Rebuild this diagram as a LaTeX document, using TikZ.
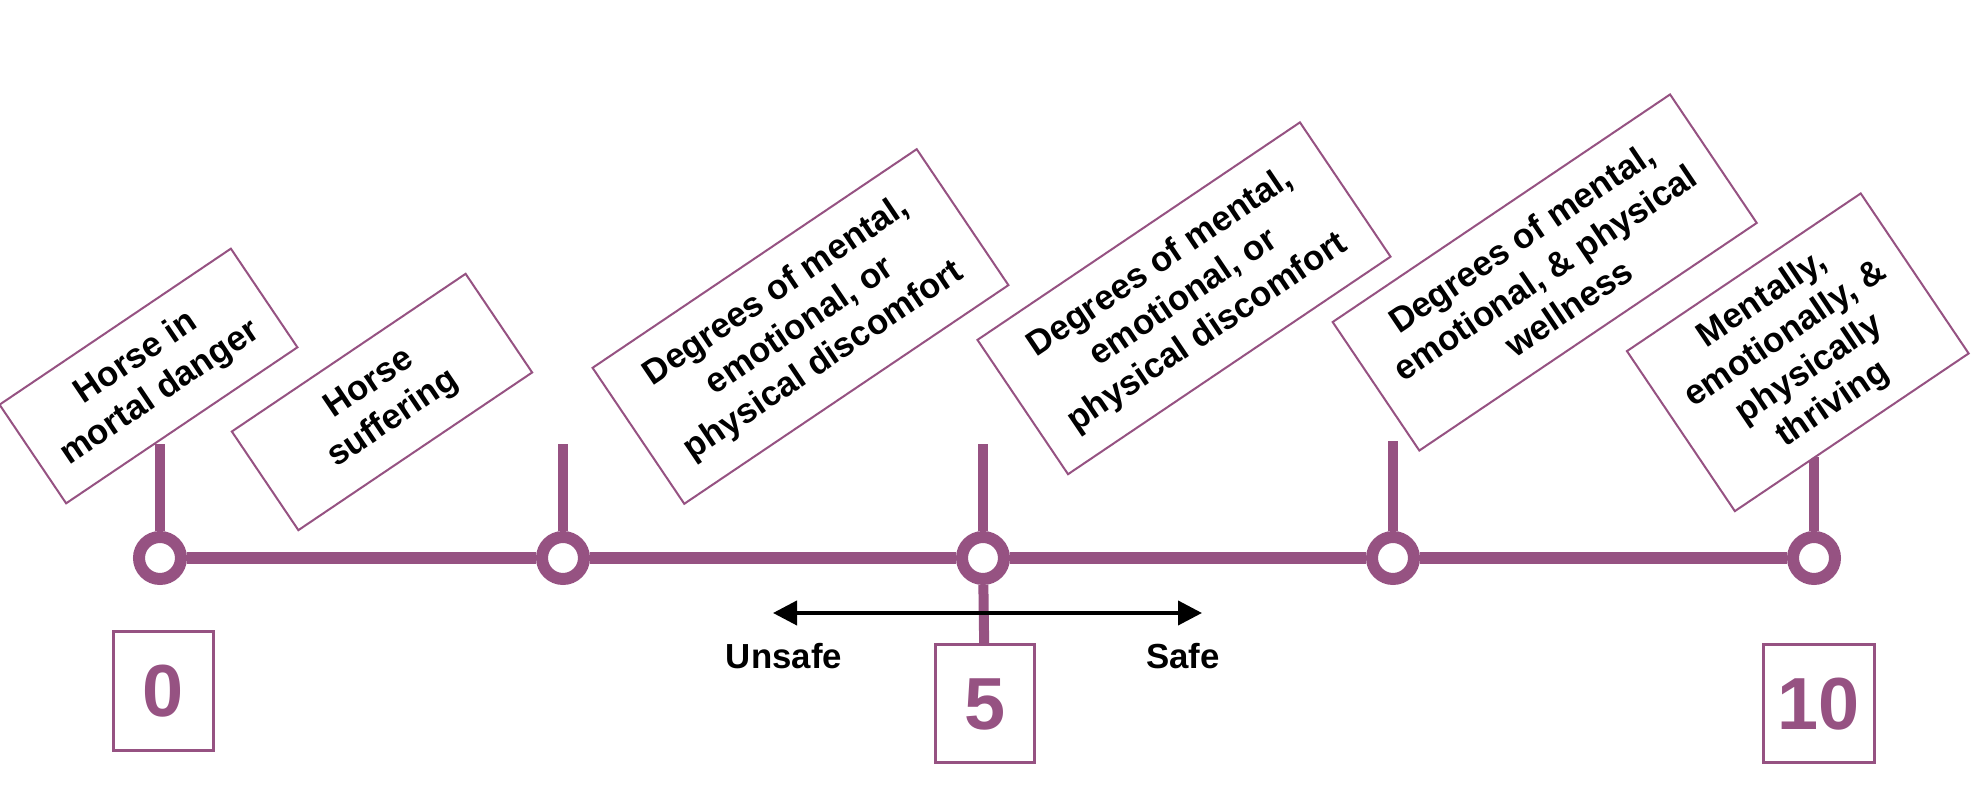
\documentclass[tikz,border=0pt]{standalone}
\usepackage{fontspec}
\setmainfont{Liberation Sans}
\usepackage{xcolor}
\usepackage{tikz}
\usetikzlibrary{arrows.meta}

\definecolor{horseplum}{RGB}{150,82,130}
\tikzset{
	ringdot/.style={circle,draw=horseplum,fill=white,line width=0.12cm,minimum size=0.42cm,inner sep=0pt},
	stemline/.style={horseplum,line width=0.10cm},
	tagbox/.style={draw=horseplum,line width=0.02cm,fill=white,rotate=34,align=center,inner sep=0pt,font=\bfseries\fontsize{9.9}{12}\selectfont},
	scorebox/.style={draw=horseplum,line width=0.03cm,text=horseplum,inner sep=0pt,font=\bfseries\fontsize{21}{21}\selectfont},
	sidelabel/.style={font=\bfseries\fontsize{9.9}{12}\selectfont}
}

\begin{document}
\begin{tikzpicture}
				\useasboundingbox (0,0) rectangle (19.76,7.94);

				\draw (1.60,2.36) node[ringdot] (c0) {};
				\draw (5.63,2.36) node[ringdot] (c1) {};
				\draw (9.83,2.36) node[ringdot] (c2) {};
				\draw (13.93,2.36) node[ringdot] (c3) {};
				\draw (18.14,2.36) node[ringdot] (c4) {};

				\draw[horseplum,line width=0.12cm] (c0) -- (c1) -- (c2) -- (c3) -- (c4);

				\coordinate (t0) at (1.60,3.50);
				\coordinate (t1) at (5.63,3.50);
				\coordinate (t2) at (9.83,3.50);
				\coordinate (t3) at (13.93,3.53);
				\coordinate (t4) at (18.14,3.37);

				\draw[stemline] (c0) -- (t0);
				\draw[stemline] (c1) -- (t1);
				\draw[stemline] (c2) -- (t2);
				\draw[stemline] (c3) -- (t3);
				\draw[stemline] (c4) -- (t4);

				\draw (1.485,4.18) node[tagbox,minimum width=2.79cm,minimum height=1.19cm] (danger) {Horse in\\mortal danger};
				\draw (3.82,3.92) node[tagbox,minimum width=2.82cm,minimum height=1.19cm] (suffer) {Horse\\suffering};
				\draw (8.005,4.675) node[tagbox,minimum width=3.91cm,minimum height=1.64cm] (discomfa) {Degrees of mental,\\emotional, or\\physical discomfort};
				\draw (11.84,4.957) node[tagbox,minimum width=3.89cm,minimum height=1.62cm] (discomfb) {Degrees of mental,\\emotional, or\\physical discomfort};
				\draw (15.447,5.215) node[tagbox,minimum width=4.07cm,minimum height=1.55cm] (wellness) {Degrees of mental,\\emotional, \& physical\\wellness};
				\draw (17.978,4.417) node[tagbox,minimum width=2.82cm,minimum height=1.93cm] (thrive) {Mentally,\\emotionally, \&\\physically\\thriving};

				\draw (1.635,1.025) node[scorebox,minimum width=0.99cm,minimum height=1.19cm] (n0) {0};
				\draw (9.85,0.90) node[scorebox,minimum width=0.99cm,minimum height=1.18cm] (n5) {5};
				\draw (18.185,0.90) node[scorebox,minimum width=1.11cm,minimum height=1.18cm] (n10) {10};

				\draw[stemline] (c2) -- (n5);

				\coordinate (unsafeend) at (7.73,1.81);
				\coordinate (safeend) at (12.02,1.81);
				\draw[line width=0.04cm,{Triangle[length=0.24cm,width=0.24cm]}-{Triangle[length=0.24cm,width=0.24cm]}] (unsafeend) -- (safeend);

				\draw (7.84,1.38) node[sidelabel] (unsafe) {Unsafe};
				\draw (11.83,1.38) node[sidelabel] (safe) {Safe};
\end{tikzpicture}
\end{document}
